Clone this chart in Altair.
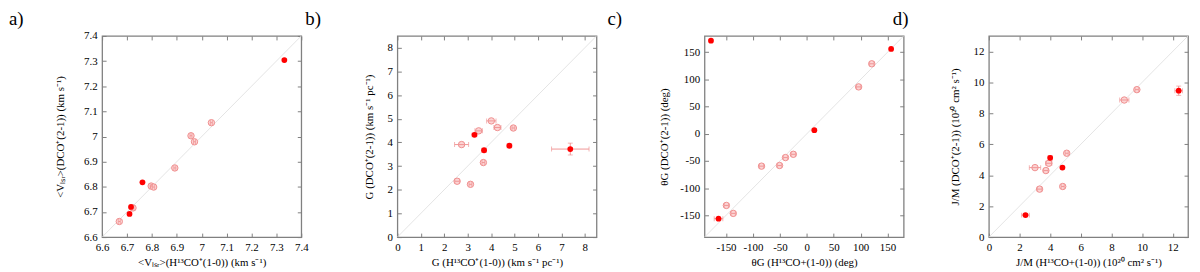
import altair as alt
import pandas as pd

FONT = "Liberation Serif"
GRAY = "#808080"
RED = "#ff0000"
OPEN_FILL = "#fcd3d3"
OPEN_STROKE = "#ef8f8f"
ERR = "#f09696"
DIAG = "#dddddd"

# ---------------- data ----------------
# kind: F = filled (solid red), O = open (faded)
a_kind = ["F", "F", "F", "F", "O", "O", "O", "O", "O", "O", "O", "O"]
a_x = [7.332, 6.762, 6.716, 6.710, 7.039, 6.957, 6.971, 6.892, 6.797, 6.807, 6.724, 6.669]
a_y = [7.304, 6.818, 6.720, 6.692, 7.055, 7.003, 6.979, 6.875, 6.803, 6.799, 6.716, 6.662]
a_xerr = [0, 0, 0, 0, 0.004, 0.004, 0.004, 0.004, 0.004, 0.004, 0.004, 0.004]
a_yerr = [0] * 12

b_kind = ["F", "F", "F", "F", "O", "O", "O", "O", "O", "O", "O", "O"]
b_x = [3.29, 3.70, 4.78, 7.38, 4.01, 4.27, 4.95, 3.47, 2.74, 3.67, 2.55, 3.12]
b_y = [4.32, 3.67, 3.86, 3.72, 4.91, 4.63, 4.61, 4.49, 3.91, 3.15, 2.36, 2.23]
b_xerr = [0.1, 0.1, 0.1, 0.8, 0.2, 0.15, 0.06, 0.16, 0.3, 0.06, 0.1, 0.06]
b_yerr = [0, 0, 0, 0.25, 0, 0, 0, 0, 0, 0, 0, 0]

c_kind = ["F", "F", "F", "F", "O", "O", "O", "O", "O", "O", "O", "O"]
c_x = [-178, 156.7, 14.0, -164, 120.7, 96.3, -25, -39.6, -50.6, -84.1, -149.4, -136.6]
c_y = [171.3, 156.1, 6.7, -156.1, 128.8, 86.3, -37.7, -43.7, -58.3, -59.5, -131.8, -146.4]
c_xerr = [0, 0, 0, 8, 4, 4, 4, 4, 4, 4, 4, 4]
c_yerr = [0] * 12

d_kind = ["F", "F", "F", "F", "O", "O", "O", "O", "O", "O", "O", "O"]
d_x = [4.00, 4.80, 2.39, 12.39, 9.66, 8.84, 5.08, 3.91, 3.01, 3.72, 3.31, 4.82]
d_y = [5.12, 4.49, 1.42, 9.46, 9.53, 8.86, 5.42, 4.77, 4.49, 4.30, 3.10, 3.27]
d_xerr = [0.12, 0.12, 0.25, 0.25, 0.12, 0.3, 0.1, 0.2, 0.37, 0.15, 0.15, 0.1]
d_yerr = [0.15, 0, 0, 0.3, 0, 0, 0, 0, 0, 0, 0, 0]

a_dom = [6.6, 7.4]
a_ticks = [6.6, 6.7, 6.8, 6.9, 7.0, 7.1, 7.2, 7.3, 7.4]
b_dom = [0, 8.5]
b_ticks = [0, 1, 2, 3, 4, 5, 6, 7, 8]
c_dom = [-190, 180]
c_ticks = [-150, -100, -50, 0, 50, 100, 150]
d_dom = [0, 13]
d_ticks = [0, 2, 4, 6, 8, 10, 12]

a_xt = "<V\u2097\u209b\u1d63>(H\u00b9\u00b3CO\u207a(1-0)) (km s\u207b\u00b9)"
a_yt = "<V\u2097\u209b\u1d63>(DCO\u207a(2-1)) (km s\u207b\u00b9)"
b_xt = "G (H\u00b9\u00b3CO\u207a(1-0)) (km s\u207b\u00b9 pc\u207b\u00b9)"
b_yt = "G (DCO\u207a(2-1)) (km s\u207b\u00b9 pc\u207b\u00b9)"
c_xt = "\u03b8G (H\u00b9\u00b3CO+(1-0)) (deg)"
c_yt = "\u03b8G (DCO\u207a(2-1)) (deg)"
d_xt = "J/M (H\u00b9\u00b3CO+(1-0)) (10\u00b2\u2070 cm\u00b2 s\u207b\u00b9)"
d_yt = "J/M (DCO\u207a(2-1)) (10\u00b2\u2070 cm\u00b2 s\u207b\u00b9)"

W, H = 201, 203
TICK = 4


def panel(kind, x, y, xerr, yerr, dom, ticks, xt, yt, label, label_dx, ytpad):
    df = pd.DataFrame({"x": x, "y": y, "xerr": xerr, "yerr": yerr, "kind": kind})
    df["xlo"] = df.x - df.xerr
    df["xhi"] = df.x + df.xerr
    df["ylo"] = df.y - df.yerr
    df["yhi"] = df.y + df.yerr
    xs = alt.Scale(domain=dom, nice=False, zero=False)
    ys = alt.Scale(domain=dom, nice=False, zero=False)
    lab = "toString(datum.value)"

    diag = alt.Chart(pd.DataFrame({"x": dom, "y": dom})).mark_line(
        color=DIAG, strokeWidth=0.8
    ).encode(
        x=alt.X("x:Q", scale=xs, axis=alt.Axis(
            orient="bottom", values=ticks, title=xt, offset=-TICK, tickSize=TICK,
            labelExpr=lab, labelPadding=5, titlePadding=4)),
        y=alt.Y("y:Q", scale=ys, axis=alt.Axis(
            orient="left", values=ticks, title=yt, offset=-TICK, tickSize=TICK,
            labelExpr=lab, labelPadding=5, titlePadding=ytpad)),
    )
    mirror = alt.Chart(pd.DataFrame({"x": dom, "y": dom})).mark_point(opacity=0).encode(
        x=alt.X("x:Q", scale=xs, axis=alt.Axis(
            orient="top", values=ticks, title=None, labels=False, offset=-TICK, tickSize=TICK)),
        y=alt.Y("y:Q", scale=ys, axis=alt.Axis(
            orient="right", values=ticks, title=None, labels=False, offset=-TICK, tickSize=TICK)),
    )
    opn = alt.Chart(df[df.kind == "O"]).mark_circle(
        size=42, color=OPEN_FILL, stroke=OPEN_STROKE, strokeWidth=1, opacity=1
    ).encode(x=alt.X("x:Q", scale=xs, axis=None), y=alt.Y("y:Q", scale=ys, axis=None))

    dx = df[df.xerr > 0]
    xrule = alt.Chart(dx).mark_rule(color=ERR, strokeWidth=1).encode(
        x=alt.X("xlo:Q", scale=xs, axis=None), x2="xhi:Q",
        y=alt.Y("y:Q", scale=ys, axis=None))
    xcap = pd.concat([pd.DataFrame({"cx": dx.xlo, "cy": dx.y}),
                      pd.DataFrame({"cx": dx.xhi, "cy": dx.y})])
    xcaps = alt.Chart(xcap).mark_tick(color=ERR, orient="vertical", size=5, thickness=1).encode(
        x=alt.X("cx:Q", scale=xs, axis=None), y=alt.Y("cy:Q", scale=ys, axis=None))

    layers = [diag, opn, xrule, xcaps]
    dy = df[df.yerr > 0]
    if len(dy):
        yrule = alt.Chart(dy).mark_rule(color=ERR, strokeWidth=1).encode(
            y=alt.Y("ylo:Q", scale=ys, axis=None), y2="yhi:Q",
            x=alt.X("x:Q", scale=xs, axis=None))
        ycap = pd.concat([pd.DataFrame({"cx": dy.x, "cy": dy.ylo}),
                          pd.DataFrame({"cx": dy.x, "cy": dy.yhi})])
        ycaps = alt.Chart(ycap).mark_tick(color=ERR, orient="horizontal", size=5, thickness=1).encode(
            x=alt.X("cx:Q", scale=xs, axis=None), y=alt.Y("cy:Q", scale=ys, axis=None))
        layers += [yrule, ycaps]

    fil = alt.Chart(df[df.kind == "F"]).mark_circle(size=34, color=RED, opacity=1).encode(
        x=alt.X("x:Q", scale=xs, axis=None), y=alt.Y("y:Q", scale=ys, axis=None))
    txt = alt.Chart(pd.DataFrame({"t": [label]})).mark_text(
        align="left", baseline="alphabetic", font=FONT, fontSize=19, color="#000"
    ).encode(x=alt.value(label_dx), y=alt.value(-11), text="t:N")
    layers += [fil, mirror, txt]
    return alt.layer(*layers).resolve_axis(x="independent", y="independent").properties(
        width=W, height=H)


def spacer(w):
    return alt.Chart(pd.DataFrame({"v": [0]})).mark_point(opacity=0).encode(
        x=alt.value(0), y=alt.value(0)
    ).properties(width=w, height=H, view=alt.ViewBackground(stroke="transparent"))


pa = panel(a_kind, a_x, a_y, a_xerr, a_yerr, a_dom, a_ticks, a_xt, a_yt, "a)", -94, 18)
pb = panel(b_kind, b_x, b_y, b_xerr, b_yerr, b_dom, b_ticks, b_xt, b_yt, "b)", -93, 13)
pc = panel(c_kind, c_x, c_y, c_xerr, c_yerr, c_dom, c_ticks, c_xt, c_yt, "c)", -98, 10)
pd_ = panel(d_kind, d_x, d_y, d_xerr, d_yerr, d_dom, d_ticks, d_xt, d_yt, "d)", -97, 13)

chart = alt.hconcat(
    pa, spacer(97), pb, spacer(109), pc, spacer(86), pd_, spacing=0, bounds="flush"
).properties(
    padding={"left": 0, "top": 0, "right": 0, "bottom": 0}
).configure_view(
    stroke=GRAY, strokeWidth=1.3
).configure_axis(
    labelFont=FONT, titleFont=FONT, labelFontSize=11, titleFontSize=11,
    titleFontWeight="normal", labelColor="#000", titleColor="#000",
    tickColor=GRAY, tickWidth=1, domain=False, grid=False, labelFlush=False,
    labelOverlap=False
)

chart.save("out.html", embed_options={"renderer": "svg", "actions": False})
